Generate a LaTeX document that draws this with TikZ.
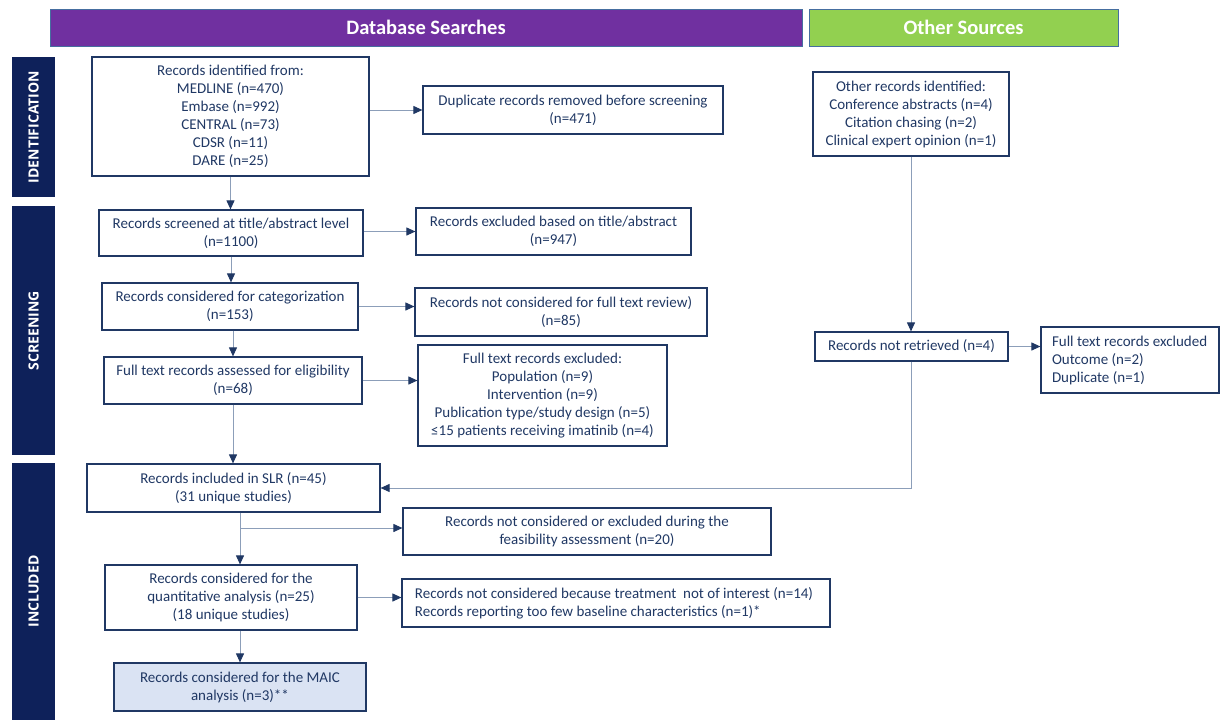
\documentclass[tikz,border=0pt]{standalone}
\usepackage{fontspec}
\setmainfont{Carlito}
\newfontfamily\sidefont{Open Sans}
\usetikzlibrary{arrows.meta,calc}
\definecolor{hdpurple}{RGB}{112,48,160}
\definecolor{hdgreen}{RGB}{146,208,80}
\definecolor{hdedge}{RGB}{70,110,160}
\definecolor{sidenavy}{RGB}{14,33,90}
\definecolor{boxnavy}{RGB}{32,56,100}
\definecolor{linegray}{RGB}{140,158,185}
\definecolor{maicfill}{RGB}{218,227,243}
\tikzset{
  box/.style={draw=boxnavy, line width=1.2pt, text=boxnavy, align=center, inner sep=0pt,
    font=\fontsize{15}{18}\selectfont},
  lbox/.style={box, align=left, text width=#1},
  banner/.style={draw=hdedge, line width=0.8pt, text=white, inner sep=0pt,
    font=\bfseries\fontsize{20.5}{24}\selectfont},
  sidebar/.style={fill=sidenavy, draw=none, inner sep=0pt},
  sidelabel/.style={text=white, rotate=90, font=\sidefont\bfseries\fontsize{14}{16}\selectfont},
  arr/.style={draw=linegray, line width=1pt, -{Triangle[length=9pt,width=8pt,color=boxnavy]}},
  conn/.style={draw=linegray, line width=1pt},
}
\begin{document}
\begin{tikzpicture}[x=1pt,y=-1pt]
\useasboundingbox (0,0) rectangle (1220,720);
% banners
\node[banner, fill=hdpurple, minimum width=752, minimum height=37] (db) at (426,27.5) {Database Searches};
\node[banner, fill=hdgreen, minimum width=309, minimum height=37] (os) at (963.5,27.5) {Other Sources};
% side bars
\node[sidebar, minimum width=43, minimum height=140] (sid) at (33.5,127) {};
\node[sidelabel] at (sid.center) {IDENTIFICATION};
\node[sidebar, minimum width=43, minimum height=249] (ssc) at (33.5,330.5) {};
\node[sidelabel] at (ssc.center) {SCREENING};
\node[sidebar, minimum width=43, minimum height=257] (sin) at (33.5,591.5) {};
\node[sidelabel] at (sin.center) {INCLUDED};
% left column
\node[box, minimum width=277, minimum height=119] (A) at (230.5,116.5)
  {Records identified from:\\MEDLINE (n=470)\\Embase (n=992)\\CENTRAL (n=73)\\CDSR (n=11)\\DARE (n=25)};
\node[box, minimum width=300, minimum height=48] (D) at (573,110)
  {Duplicate records removed before screening\\(n=471)};
\node[box, minimum width=264, minimum height=46] (B) at (231,233)
  {Records screened at title/abstract level\\(n=1100)};
\node[box, minimum width=275, minimum height=47] (C) at (553.5,231.5)
  {Records excluded based on title/abstract\\(n=947)};
\node[box, minimum width=256, minimum height=47] (E) at (230,306.5)
  {Records considered for categorization\\(n=153)};
\node[box, minimum width=292, minimum height=48] (G) at (561,312)
  {Records not considered for full text review)\\(n=85)};
\node[box, minimum width=258, minimum height=47] (F) at (233,380.5)
  {Full text records assessed for eligibility\\(n=68)};
\node[box, minimum width=249, minimum height=101] (H) at (542.5,395.5)
  {Full text records excluded:\\Population (n=9)\\Intervention (n=9)\\Publication type/study design (n=5)\\≤15 patients receiving imatinib (n=4)};
\node[box, minimum width=293, minimum height=48] (SLR) at (233.5,488)
  {Records included in SLR (n=45)\\(31 unique studies)};
\node[box, minimum width=368, minimum height=47] (FS) at (587,531.5)
  {Records not considered or excluded during the\\feasibility assessment (n=20)};
\node[box, minimum width=252, minimum height=65] (Q) at (231,597.5)
  {Records considered for the\\quantitative analysis (n=25)\\(18 unique studies)};
\node[box, minimum width=428, minimum height=48, align=left] (T) at (616,603)
  {\hspace*{-4pt}Records not considered because treatment\ \ not of interest (n=14)\\\hspace*{-4pt}Records reporting too few baseline characteristics (n=1)*};
\node[box, fill=maicfill, minimum width=252, minimum height=48] (M) at (240,687)
  {Records considered for the MAIC\\analysis (n=3)**};
% right column
\node[box, minimum width=196, minimum height=84] (O) at (911,114)
  {Other records identified:\\Conference abstracts (n=4)\\Citation chasing (n=2)\\Clinical expert opinion (n=1)};
\node[box, minimum width=193, minimum height=29] (NR) at (911.5,346.5)
  {Records not retrieved (n=4)};
\node[box, minimum width=178, minimum height=66, align=left] (X) at (1130,360)
  {\makebox[156pt][l]{Full text records excluded}\\\makebox[156pt][l]{Outcome (n=2)}\\\makebox[156pt][l]{Duplicate (n=1)}};
% connectors
\coordinate (j1) at (240,528);
\draw[arr] (A.south) -- (A.south |- B.north);
\draw[arr] (A.east |- D.west) -- (D.west);
\draw[arr] (B.south) -- (B.south |- E.north);
\draw[arr] (B.east |- C.west) -- (C.west);
\draw[arr] (F.north |- E.south) -- (F.north);
\draw[arr] (E.east) -- (E.east -| G.west);
\draw[arr] (F.south) -- (F.south |- SLR.north);
\draw[arr] (F.east) -- (F.east -| H.west);
\draw[arr] (SLR.south -| j1) -- (Q.north -| j1);
\draw[arr] (j1) -- (j1 -| FS.west);
\draw[arr] (Q.east) -- (Q.east -| T.west);
\draw[arr] (Q.south -| M.north) -- (M.north);
\draw[arr] (O.south) -- (O.south |- NR.north);
\draw[arr] (NR.east) -- (NR.east -| X.west);
\draw[arr] (NR.south) |- (SLR.east);
\end{tikzpicture}
\end{document}
